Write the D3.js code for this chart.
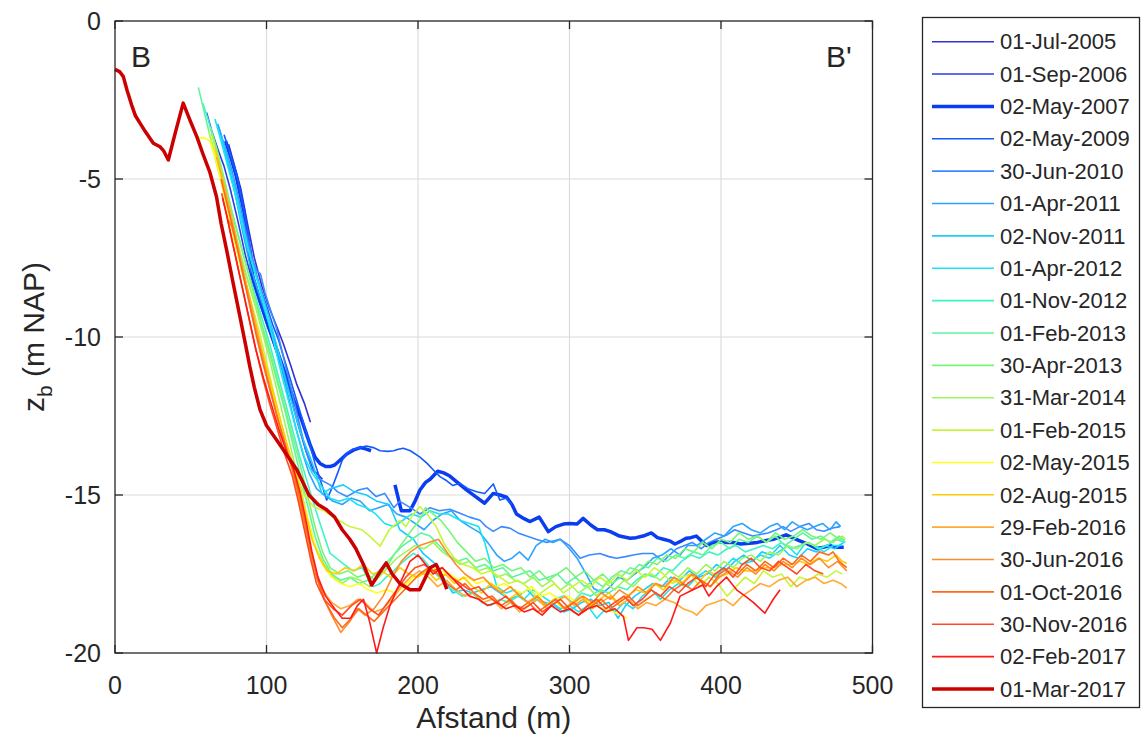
<!DOCTYPE html>
<html>
<head>
<meta charset="utf-8">
<script src="https://cdn.jsdelivr.net/npm/d3@7"></script>
<style>
  body { margin: 0; background: #fff; }
  text { font-family: "Liberation Sans", Arial, sans-serif; fill: #262626; }
</style>
</head>
<body>
<div id="chart"></div>
<script>
// survey dates, in legend order
const dates = ["01-Jul-2005", "01-Sep-2006", "02-May-2007", "02-May-2009", "30-Jun-2010",
  "01-Apr-2011", "02-Nov-2011", "01-Apr-2012", "01-Nov-2012", "01-Feb-2013", "30-Apr-2013",
  "31-Mar-2014", "01-Feb-2015", "02-May-2015", "02-Aug-2015", "29-Feb-2016", "30-Jun-2016",
  "01-Oct-2016", "30-Nov-2016", "02-Feb-2017", "01-Mar-2017"];

const colors = ["#3232d2", "#2a3ce6", "#0a3cf0", "#145aff", "#3a8aff", "#29a4ff", "#1ecbff",
  "#1ae4f2", "#40f2c8", "#5ef5a0", "#78f578", "#9cf55a", "#c8f53a", "#ffff1e", "#ffcc00",
  "#ffaa33", "#ff8c28", "#ff6a1a", "#ff4a22", "#ff1a1a", "#cc0000"];

const thick = ["02-May-2007", "01-Mar-2017"];

const xTicks = [0, 100, 200, 300, 400, 500];
const yTicks = [0, -5, -10, -15, -20];

// profiles: [afstand (m), z_b (m NAP)]
const p20050701 = [[75,-3.9],[79,-4.6],[83,-5.3],[87,-6.3],[92,-7.5],[97,-8.4],[102,-9.1],[107,-9.7],[111,-10.2],[116,-10.9],[120,-11.5],[125,-12.1],[129,-12.7]];

const p20060901 = [[60.5,-2.9],[64,-3.5],[68.2,-4.1],[72,-4.6],[76,-5.3],[81,-6.3],[86,-7.4],[91,-8.3],[96,-9.0],[101,-9.7],[106,-10.4],[111,-11.1],[116,-11.9],[121,-12.8],[126,-13.6],[131,-14.2],[137,-14.5]];

const p20070502 = [[73,-3.8],[77,-4.4],[80,-4.9],[85,-6.0],[91,-8.1],[96,-8.9],[100,-9.5],[104.5,-10.1],[109,-10.7],[113,-11.25],[118,-12.0],[123,-12.6],[128.7,-13.4],[132,-13.8],[135.3,-14.0],[139,-14.1],[142,-14.1],[145,-14.05],[148.5,-13.9],[153,-13.7],[157.3,-13.58],[162,-13.5],[166,-13.55],[169,-13.6],
  [null,null],
  [184.8,-14.68],[189,-15.5],[194.7,-15.5],[198,-15.2],[201.3,-14.84],[205,-14.6],[208,-14.5],[213,-14.25],[217,-14.3],[221,-14.4],[226,-14.6],[232,-14.84],[238,-15.05],[244,-15.26],[249.7,-14.95],[254,-15.0],[258.5,-15.07],[262,-15.3],[265,-15.6],[270,-15.75],[274,-15.84],[280,-15.7],[286,-16.16],[291,-16.0],[296,-15.92],[300,-15.9],[305,-15.92],[309,-15.74],[314,-15.95],[318.5,-16.1],[323,-16.1],[327,-16.16],[333,-16.3],[340,-16.37],[344,-16.35],[348.6,-16.3],[354,-16.2],[358,-16.35],[362,-16.4],[366,-16.45],[369.6,-16.55],[374,-16.45],[377,-16.37],[380,-16.35],[383.7,-16.3],[387,-16.45],[390.4,-16.6],[395,-16.5],[399,-16.48],[404,-16.5],[408,-16.5],[413,-16.55],[419,-16.53],[424,-16.5],[429,-16.45],[434.5,-16.4],[438,-16.35],[443,-16.26],[447,-16.35],[452,-16.45],[457,-16.55],[463,-16.69],[468,-16.65],[472,-16.6],[475,-16.65],[481,-16.65]];

const p20090502 = [[72,-3.6],[76,-4.2],[81,-5.0],[86,-6.2],[91,-7.6],[95,-8.3],[100,-9.0],[104,-9.6],[108,-10.1],[113,-10.9],[118,-11.7],[123,-12.5],[128,-13.3],[132,-14.0],[136,-14.6],[139.7,-15.16],[143,-14.8],[147,-14.3],[150,-13.9],[153,-13.68],[157,-13.55],[161.6,-13.5],[166,-13.45],[170.5,-13.5],[175,-13.6],[180,-13.62],[184,-13.6],[187,-13.55],[190.3,-13.52],[195,-13.6],[201.3,-13.8],[206,-14.0],[210,-14.2],[214.5,-14.42],[219,-14.55],[223,-14.7],[227.7,-14.63],[233,-14.8],[238.7,-14.9],[244,-14.95],[249.7,-14.65],[254,-15.16],[258,-15.1],[262,-15.3]];

const p20100630 = [[68,-3.3],[72,-3.9],[77,-4.7],[82,-5.7],[87,-6.8],[91,-7.6],[93.5,-7.9],[96,-8.0],[99,-8.6],[103,-9.2],[106.5,-9.7],[110,-10.4],[114,-11.2],[118,-12.0],[122,-12.8],[126,-13.6],[130,-14.2],[135,-14.5],[142,-14.68],[147,-14.9],[153,-15.05],[160.7,-14.84],[166.5,-14.78],[172.4,-15.05],[178,-14.95],[184,-15.4],[188,-15.2],[195,-15.4],[201.3,-15.6],[208,-15.4],[214,-15.5],[221,-15.45],[227.7,-15.58],[234,-15.7],[240.9,-15.8],[245,-16.0],[249.7,-16.15],[255,-16.0],[260.7,-16.05],[266,-16.2],[271.7,-16.3],[278,-16.4],[284.9,-16.5],[290,-16.45],[293.7,-16.4],[300,-16.6],[307,-17.0],[313,-16.9],[320,-16.85],[326,-16.95],[331,-17.0],[337,-16.95],[342,-16.9],[348,-16.85],[355,-16.85],[362,-17.1],[366,-16.9],[370.6,-16.7],[376,-16.6],[381,-16.5],[387,-16.7],[392,-16.5],[397,-16.4],[403.7,-16.27],[409,-16.1],[415,-16.2],[421,-16.3],[426,-16.25],[431,-16.2],[436.7,-16.1],[441,-16.0],[446,-16.15],[452,-16.0],[458,-15.9],[463,-16.1],[468,-16.15],[473,-16.05],[478.5,-16.0]];

const p20110401 = [[67.8,-3.25],[70,-3.6],[74,-4.4],[79,-5.4],[84,-6.6],[89,-7.7],[94,-8.5],[99,-9.2],[104,-9.9],[109,-10.8],[114,-11.8],[119,-12.8],[124,-13.7],[128,-14.3],[133,-14.8],[138,-15.0],[144,-15.2],[150,-15.3],[156,-15.1],[162,-15.2],[168,-15.5],[174,-15.4],[180,-15.3],[186,-15.6],[192,-15.7],[198,-15.9],[204,-16.1],[210,-15.8],[216,-15.6],[222,-15.5],[227.7,-15.8],[234,-16.0],[241,-16.2],[246,-16.5],[252,-16.9],[257,-17.1],[262,-17.0],[267,-16.8],[272.7,-17.06],[278,-16.6],[284,-16.4],[289,-16.5],[294,-16.4],[300,-16.7],[305,-17.0],[311,-17.5],[316,-17.96],[322,-18.1],[327,-17.9],[332,-17.6],[338,-17.7],[343,-17.5],[349,-17.3],[355,-17.0],[361,-16.9],[367,-16.7],[373,-16.9],[378,-16.6],[384,-16.6],[390,-16.4],[396,-16.2],[402,-16.3],[408,-16.0],[414,-15.9],[420,-16.1],[426,-16.2],[432,-16.0],[437,-15.9],[442,-16.1],[447,-15.85],[452,-16.0],[457,-16.1],[462,-16.0],[467,-15.9],[472,-16.1],[476,-15.85],[479,-16.0]];

const p20111102 = [[70,-3.6],[74,-4.3],[78,-5.0],[83,-6.1],[88,-7.2],[93,-8.0],[98,-8.8],[103,-9.6],[108,-10.5],[113,-11.4],[118,-12.3],[123,-13.1],[128,-13.7],[131,-14.1],[136.6,-14.97],[142,-14.8],[150.7,-14.68],[158,-14.9],[166,-15.0],[173,-15.2],[181,-15.3],[188,-16.1],[197,-16.4],[203.3,-16.85],[212,-17.2],[219,-17.8],[223,-18.1],[230,-18.0],[236,-18.1],[242,-18.0],[248,-17.9],[254,-18.1],[260,-18.3],[266,-18.2],[272,-18.0],[278,-18.3],[284,-18.4],[290,-18.5],[296,-18.7],[302,-18.6],[308,-18.4],[314,-18.3],[320,-18.5],[326,-18.4],[332,-18.9],[337,-18.5],[343,-18.2],[349,-18.0],[355,-17.8],[361,-17.9],[367,-17.6],[373,-17.7],[379,-17.4],[385,-17.6],[391,-17.5],[397,-17.2],[403,-17.4],[409,-17.1],[415,-16.9],[421,-17.1],[427,-16.8],[433,-16.9],[439,-16.6],[445,-16.9],[451,-17.0],[457,-16.7],[463,-16.8],[469,-16.6],[475,-16.7],[481,-16.5]];

const p20120401 = [[66,-3.1],[70,-3.8],[75,-4.7],[80,-5.6],[85,-6.7],[90,-7.6],[95,-8.4],[100,-9.3],[105,-10.2],[110,-11.2],[115,-12.1],[120,-13.0],[125,-13.8],[130,-14.3],[136,-14.7],[142,-15.1],[148,-15.2],[154,-15.1],[160,-15.3],[166,-15.4],[172,-15.6],[178,-15.9],[184,-16.0],[190,-15.8],[196,-15.6],[202,-15.7],[208,-15.5],[214,-15.6],[220,-15.6],[227.7,-15.8],[234,-15.9],[240,-16.0],[244,-16.5],[248,-17.2],[252,-17.9],[258,-18.1],[264,-18.0],[270,-18.3],[276,-18.0],[282,-18.2],[288,-18.4],[294,-18.6],[300,-18.5],[306,-18.7],[312,-18.5],[318,-18.9],[324,-18.6],[330,-18.7],[336,-18.4],[342,-18.6],[348,-18.2],[354,-18.0],[360,-18.3],[366,-18.0],[372,-17.8],[378,-17.9],[384,-17.6],[390,-17.4],[396,-17.6],[402,-17.3],[408,-17.0],[414,-17.2],[420,-17.1],[426,-16.9],[432,-17.0],[438,-16.8],[444,-16.6],[450,-16.9],[456,-16.5],[462,-16.6],[468,-16.8],[474,-16.6],[480,-16.6]];

const p20121101 = [[58,-2.6],[62,-3.2],[67,-4.1],[72,-5.0],[77,-6.0],[82,-6.9],[87,-7.8],[92,-8.6],[97,-9.4],[102,-10.2],[107,-11.1],[112,-12.0],[117,-12.9],[122,-13.8],[127,-14.6],[132,-15.4],[136,-16.0],[142,-16.85],[146,-17.0],[151.4,-17.2],[157,-17.4],[163,-17.3],[170.5,-17.9],[175,-17.8],[179,-17.6],[184,-17.4],[188,-17.2],[193,-17.0],[197,-16.85],[203,-17.0],[208,-17.3],[214,-17.6],[219,-17.9],[223,-18.0],[229,-18.2],[236,-18.1],[242,-18.4],[248,-18.5],[254,-18.3],[260,-18.4],[266,-18.2],[272,-18.4],[278,-18.3],[284,-18.5],[290,-18.3],[296,-18.2],[302,-18.4],[308,-18.1],[314,-18.2],[320,-18.0],[326,-18.1],[332,-17.9],[338,-18.0],[344,-17.7],[350,-17.5],[356,-17.6],[362,-17.3],[368,-17.4],[374,-17.1],[380,-16.9],[386,-17.0],[392,-16.8],[398,-16.9],[404,-16.7],[410,-16.6],[416,-16.8],[422,-16.7],[428,-16.6],[434,-16.7],[440,-16.5],[446,-16.7],[452,-16.6],[458,-16.5],[464,-16.7],[470,-16.6],[476,-16.4],[482,-16.5]];

const p20130201 = [[55,-2.1],[59,-2.9],[63,-3.7],[67,-4.5],[72,-5.4],[77,-6.4],[82,-7.3],[87,-8.1],[92,-8.9],[97,-9.7],[102,-10.5],[107,-11.4],[112,-12.3],[117,-13.3],[122,-14.3],[127,-15.3],[132,-16.3],[137,-17.0],[143,-17.5],[149,-17.7],[155,-17.6],[161,-17.8],[167,-17.7],[172,-17.5],[178,-17.2],[184,-16.9],[190,-16.6],[196,-16.4],[202,-16.2],[208,-16.3],[214,-16.6],[220,-16.9],[226,-17.1],[232,-17.0],[238,-17.3],[244,-17.2],[250,-17.4],[256,-17.3],[262,-17.6],[268,-17.5],[274,-17.4],[280,-17.7],[286,-17.6],[292,-17.5],[298,-17.8],[304,-17.6],[310,-17.9],[316,-17.7],[322,-17.9],[328,-17.6],[334,-17.4],[340,-17.5],[346,-17.2],[352,-17.3],[358,-17.0],[364,-17.1],[370,-16.9],[376,-17.0],[382,-16.8],[388,-16.9],[394,-16.6],[400,-16.5],[406,-16.7],[412,-16.4],[418,-16.5],[424,-16.3],[430,-16.5],[436,-16.3],[442,-16.6],[448,-16.4],[454,-16.2],[460,-16.4],[466,-16.3],[472,-16.5],[478,-16.3],[482,-16.5]];

const p20130430 = [[63,-3.35],[67,-4.0],[72,-5.0],[77,-6.0],[82,-6.9],[87,-7.8],[92,-8.7],[97,-9.6],[102,-10.4],[107,-11.3],[112,-12.2],[117,-13.1],[122,-14.0],[127,-15.0],[132,-16.0],[137,-16.8],[142,-17.3],[148,-17.5],[154,-17.4],[160,-17.6],[166,-17.5],[172,-17.7],[178,-17.4],[184,-16.9],[190,-16.5],[196,-16.1],[201,-15.8],[205,-15.4],[210,-15.6],[215,-15.8],[220,-16.1],[226,-16.5],[232,-16.8],[238,-17.1],[244,-17.0],[250,-17.3],[256,-17.2],[262,-17.4],[268,-17.3],[274,-17.6],[280,-17.4],[286,-17.7],[292,-17.5],[298,-17.3],[304,-17.6],[310,-17.4],[316,-17.7],[322,-17.5],[328,-17.8],[334,-17.6],[340,-17.3],[346,-17.4],[352,-17.1],[358,-17.2],[364,-16.9],[370,-17.0],[376,-16.7],[382,-16.8],[388,-16.5],[394,-16.7],[400,-16.4],[406,-16.5],[412,-16.2],[418,-16.4],[424,-16.3],[430,-16.5],[436,-16.2],[442,-16.4],[448,-16.3],[454,-16.1],[460,-16.3],[466,-16.4],[472,-16.2],[478,-16.4],[482,-16.4]];

const p20140331 = [[64,-3.6],[68,-4.3],[72,-5.1],[77,-6.2],[82,-7.2],[87,-8.1],[92,-8.9],[97,-9.8],[102,-10.7],[107,-11.7],[112,-12.7],[117,-13.7],[122,-14.7],[127,-15.7],[132,-16.6],[138,-17.2],[144,-17.6],[150,-17.8],[156,-17.6],[162,-17.7],[168,-17.9],[174,-17.6],[180,-17.3],[186,-17.0],[192,-16.8],[198,-16.6],[204,-16.7],[210,-16.5],[216,-16.8],[222,-17.0],[228,-17.2],[234,-17.1],[240,-17.4],[246,-17.3],[252,-17.6],[258,-17.5],[264,-17.7],[270,-17.8],[276,-17.6],[282,-17.9],[288,-17.7],[294,-18.0],[300,-17.8],[306,-18.1],[312,-17.9],[318,-18.2],[324,-17.8],[330,-18.0],[336,-17.7],[342,-17.9],[348,-17.6],[354,-17.5],[360,-17.7],[366,-17.4],[372,-17.6],[378,-17.3],[384,-17.5],[390,-17.2],[396,-17.4],[402,-17.1],[408,-17.3],[414,-17.0],[420,-16.9],[426,-17.1],[432,-16.8],[438,-16.9],[444,-16.6],[450,-16.7],[456,-16.5],[462,-16.6],[468,-16.4],[474,-16.5],[480,-16.3],[482,-16.4]];

const p20150201 = [[62,-3.5],[66,-4.2],[70,-5.0],[75,-6.1],[80,-7.1],[85,-8.0],[90,-8.9],[95,-9.8],[100,-10.8],[105,-11.8],[110,-12.8],[115,-13.7],[120,-14.4],[125,-15.0],[131,-15.37],[138,-15.5],[147.6,-15.8],[155,-16.0],[163,-16.1],[168,-16.3],[175,-16.62],[181,-16.1],[188,-15.8],[192,-16.0],[197,-15.6],[201.3,-15.37],[206,-15.6],[212,-16.0],[218,-16.6],[224,-17.0],[230,-17.2],[236,-17.3],[242,-17.5],[248,-17.4],[254,-17.6],[260,-17.8],[266,-17.7],[272,-17.9],[278,-18.2],[284,-18.0],[290,-17.8],[296,-18.1],[302,-17.9],[308,-17.7],[314,-17.9],[320,-17.6],[326,-17.8],[332,-17.5],[338,-17.7],[344,-17.4],[350,-17.6],[356,-17.3],[362,-17.5],[368,-17.8],[374,-17.6],[380,-17.5],[386,-17.9],[392,-17.6],[398,-17.8],[404,-18.2],[410,-17.9],[416,-17.6],[422,-17.8],[428,-17.4],[434,-17.6],[440,-17.5],[446,-17.9],[452,-17.6],[458,-17.7],[464,-17.5],[470,-17.6],[476,-17.4],[480,-17.5]];

const p20150502 = [[55,-3.7],[59,-3.7],[62.7,-3.8],[66,-4.3],[70,-5.1],[74,-5.9],[79,-7.0],[84,-8.0],[89,-8.9],[94,-9.8],[99,-10.8],[104,-11.8],[109,-12.8],[114,-13.7],[118,-14.3],[122,-14.9],[127,-15.7],[132,-16.6],[137,-17.2],[143,-17.6],[149,-17.8],[155,-17.9],[161,-17.8],[167,-18.0],[173,-18.1],[179,-18.0],[185,-18.1],[191,-17.9],[197,-17.6],[203,-17.5],[209,-17.3],[215,-17.4],[221,-17.5],[227,-17.7],[233,-17.6],[239,-17.8],[245,-17.7],[251,-17.9],[257,-17.8],[263,-18.0],[269,-18.1],[275,-17.9],[281,-18.2],[287,-18.1],[293,-18.3],[299,-18.2],[305,-18.4],[311,-18.3],[317,-18.5],[323,-18.6],[329,-18.7],[334,-18.8],[338,-18.9]];

const p20150802 = [[66,-4.0],[70,-4.8],[74,-5.6],[78,-6.5],[83,-7.6],[88,-8.6],[93,-9.6],[98,-10.6],[103,-11.5],[108,-12.4],[113,-13.3],[118,-14.1],[122,-14.8],[126,-15.6],[130,-16.4],[135,-17.0],[140,-17.4],[146,-17.5],[152,-17.3],[158,-17.4],[164,-17.2],[170,-17.5],[176,-17.4],[182,-17.6],[188,-17.3],[194,-17.5],[200,-17.6],[206,-17.4],[212,-17.7],[218,-17.5],[224,-17.8],[230,-17.6],[236,-17.9],[242,-18.1],[248,-17.8],[254,-18.0],[260,-18.3],[266,-18.1],[272,-18.4],[278,-18.2],[284,-18.5],[290,-18.3],[296,-18.6],[302,-18.4],[308,-18.2],[314,-18.5],[320,-18.3],[326,-18.1],[332,-18.4],[338,-18.2],[344,-18.0],[350,-18.1],[356,-17.8],[362,-18.0],[368,-17.7],[374,-17.8],[380,-17.5],[386,-17.7],[392,-17.4],[398,-17.6],[404,-17.5],[410,-17.3],[416,-17.4],[422,-17.4],[428,-17.3],[434,-17.3],[440,-17.2],[446,-17.2],[452,-17.1],[458,-17.2],[464,-17.0],[470,-17.1],[476,-16.9],[480,-17.1],[483,-17.16]];

const p20160229 = [[67,-4.3],[72,-5.2],[76,-6.0],[81,-7.1],[86,-8.2],[91,-9.2],[96,-10.3],[101,-11.3],[106,-12.3],[111,-13.2],[116,-14.0],[120,-14.8],[124,-15.7],[128,-16.6],[132,-17.4],[137,-18.0],[143,-18.4],[149,-18.6],[155,-18.5],[160,-18.3],[165,-18.4],[171,-18.7],[177,-18.6],[183,-18.3],[189,-17.9],[195,-17.6],[201,-17.4],[207,-17.6],[213,-17.9],[219,-17.7],[225,-18.0],[231,-18.2],[237,-18.1],[243,-18.4],[249,-18.3],[255,-18.6],[261,-18.4],[267,-18.7],[273,-18.5],[279,-18.3],[285,-18.6],[291,-18.4],[297,-18.2],[303,-18.5],[309,-18.3],[315,-18.6],[321,-18.4],[327,-18.2],[333,-18.5],[339,-18.3],[345,-18.6],[351,-18.4],[357,-18.5],[363,-18.3],[369,-18.4],[375,-18.6],[381,-18.7],[384,-18.8],[390,-18.5],[396,-18.4],[402,-18.3],[408,-18.5],[414,-18.2],[420,-18.0],[426,-17.8],[432,-17.9],[438,-17.7],[444,-17.6],[450,-17.9],[456,-17.7],[462,-17.6],[468,-17.8],[474,-17.7],[479,-17.8],[483,-17.95]];

const p20160630 = [[74.8,-6.3],[77,-6.5],[82,-7.4],[87,-8.5],[92,-9.6],[97,-10.6],[102,-11.6],[107,-12.5],[112,-13.4],[117,-14.2],[121,-15.0],[125,-15.9],[129,-16.8],[133,-17.6],[138,-18.3],[143,-18.8],[149,-19.35],[155,-19.0],[160,-18.6],[165,-18.8],[171,-18.6],[177,-18.2],[183,-17.6],[189,-17.1],[195,-16.8],[201,-16.6],[207,-16.5],[213.5,-16.4],[219,-16.8],[225,-17.2],[231,-17.5],[237,-17.7],[243,-17.6],[249,-17.9],[255,-18.1],[261,-17.9],[267,-18.2],[273,-18.4],[279,-18.2],[285,-18.5],[291,-18.3],[297,-18.6],[303,-18.4],[309,-18.2],[315,-18.4],[321,-18.1],[327,-18.3],[333,-18.0],[339,-18.2],[345,-17.9],[351,-18.1],[357,-17.8],[363,-17.9],[369,-17.6],[375,-17.8],[381,-17.5],[387,-17.7],[393,-17.9],[399,-17.6],[405,-17.4],[411,-17.6],[417,-17.3],[423,-17.5],[429,-17.2],[435,-17.4],[441,-17.1],[447,-17.3],[453,-17.0],[459,-17.2],[465,-17.0],[471,-17.3],[477,-17.1],[483,-17.4]];

const p20161001 = [[70,-5.0],[74,-5.8],[78,-6.6],[83,-7.7],[88,-8.8],[93,-9.9],[98,-10.9],[103,-11.8],[108,-12.7],[113,-13.5],[118,-14.3],[122,-15.1],[126,-16.0],[130,-16.9],[134,-17.7],[139,-18.4],[145,-18.9],[150,-19.2],[156,-18.9],[161,-18.6],[166,-18.8],[171,-19.0],[177,-18.7],[183,-18.4],[189,-18.1],[195,-17.8],[201,-17.5],[207,-17.3],[213,-17.5],[219,-17.8],[225,-18.0],[231,-17.8],[237,-18.1],[243,-18.3],[249,-18.2],[255,-18.5],[261,-18.3],[267,-18.6],[273,-18.4],[279,-18.7],[285,-18.5],[291,-18.3],[297,-18.6],[303,-18.4],[309,-18.7],[315,-18.5],[321,-18.3],[327,-18.6],[333,-18.4],[339,-18.2],[345,-18.5],[351,-18.3],[357,-18.1],[363,-18.3],[369,-18.0],[375,-17.8],[381,-18.0],[387,-17.7],[393,-17.9],[399,-17.5],[405,-17.3],[411,-17.5],[417,-17.2],[423,-17.4],[429,-17.1],[435,-17.3],[441,-17.0],[447,-17.2],[453,-16.9],[459,-17.1],[465,-16.8],[471,-16.9],[474,-16.8],[478,-17.1],[483,-17.3]];

const p20161130 = [[70.4,-5.45],[73,-6.0],[77,-6.9],[82,-8.0],[87,-9.1],[92,-10.2],[97,-11.2],[102,-12.1],[107,-12.9],[112,-13.7],[117,-14.4],[121,-15.2],[125,-16.1],[129,-17.0],[133,-17.8],[138,-18.3],[144,-18.6],[150,-18.8],[156,-18.5],[162,-18.3],[168,-18.6],[174,-18.8],[180,-18.4],[186,-18.0],[192,-17.6],[198,-17.3],[204,-17.2],[210,-17.4],[216,-17.3],[222,-17.6],[228,-17.8],[234,-18.0],[240,-17.9],[246,-18.2],[252,-18.4],[258,-18.2],[264,-18.5],[270,-18.6],[276,-18.4],[282,-18.7],[288,-18.5],[294,-18.3],[300,-18.6],[306,-18.8],[312,-18.5],[318,-18.3],[324,-18.6],[330,-18.4],[336,-18.2],[342,-18.5],[348,-18.3],[354,-18.0],[360,-18.2],[366,-17.9],[372,-18.1],[378,-17.8],[384,-17.6],[390,-17.9],[396,-17.5],[402,-17.3],[408,-17.6],[414,-17.2],[420,-17.0],[426,-17.3],[432,-17.4],[438,-17.1],[444,-17.3],[450,-17.5],[456,-17.2],[462,-17.4],[467.5,-17.5]];

const p20170202 = [[71,-5.6],[74,-6.2],[78,-7.1],[83,-8.2],[88,-9.3],[93,-10.4],[98,-11.3],[103,-12.1],[108,-12.9],[113,-13.6],[118,-14.2],[122,-14.9],[126,-15.8],[130,-16.8],[134,-17.6],[139,-18.2],[145,-18.6],[150,-18.9],[155.5,-18.9],[160,-18.5],[164,-18.3],[168,-19.0],[172.7,-20.0],[177,-19.2],[181.5,-18.5],[186,-18.0],[190,-17.6],[194.7,-17.1],[200,-16.9],[205,-17.2],[210,-17.5],[216,-17.3],[222,-17.6],[228,-17.9],[234,-18.2],[240,-18.3],[246,-18.5],[252,-18.4],[258,-18.6],[264,-18.5],[270,-18.7],[276,-18.6],[282,-18.8],[288,-18.5],[294,-18.7],[300,-18.6],[306,-18.8],[312,-18.6],[318,-18.5],[324,-18.7],[330,-18.6],[335.6,-18.85],[338.9,-19.6],[344.5,-19.2],[349,-19.2],[354.5,-19.25],[360,-19.6],[366.6,-19.05],[373,-18.2],[381.5,-18.0],[388,-17.85],[392,-18.2],[397,-17.9],[403.7,-17.6],[410.3,-18.0],[416,-18.2],[421.3,-18.4],[429,-18.74],[434.5,-18.3],[439,-18.0]];

const p20170301 = [[0,-1.53],[3,-1.6],[5.5,-1.76],[8,-2.2],[11,-2.66],[13.5,-3.0],[16.5,-3.23],[20,-3.5],[25.3,-3.87],[29.7,-3.98],[32,-4.1],[35.2,-4.4],[40,-3.5],[45,-2.6],[50,-3.2],[54,-3.66],[58,-4.2],[62.7,-4.8],[67,-5.56],[70,-6.4],[73.7,-7.25],[78,-8.3],[82.5,-9.36],[86,-10.2],[89,-10.94],[92,-11.6],[95.7,-12.3],[100,-12.8],[106.7,-13.26],[113,-13.7],[120,-14.2],[124,-14.6],[128,-15.0],[134,-15.3],[139.7,-15.47],[145,-15.7],[150,-16.1],[155,-16.4],[159,-16.7],[164,-17.2],[169.4,-17.85],[174,-17.5],[179,-17.15],[183,-17.5],[188,-17.8],[194.7,-18.0],[201,-18.0],[205,-17.6],[208,-17.3],[212,-17.2],[216,-17.6],[219,-17.98]];

const profiles = [p20050701, p20060901, p20070502, p20090502, p20100630, p20110401, p20111102,
  p20120401, p20121101, p20130201, p20130430, p20140331, p20150201, p20150502, p20150802,
  p20160229, p20160630, p20161001, p20161130, p20170202, p20170301];

const W = 1142, H = 740;
const m = { left: 115, top: 21, right: 872.5, bottom: 653 };

const x = d3.scaleLinear().domain([0, 500]).range([m.left, m.right]);
const y = d3.scaleLinear().domain([-20, 0]).range([m.bottom, m.top]);

const svg = d3.select("#chart").append("svg")
    .attr("width", W)
    .attr("height", H);

// grid
svg.append("g").selectAll("line")
  .data(xTicks.slice(1, -1))
  .join("line")
    .attr("x1", d => x(d)).attr("x2", d => x(d))
    .attr("y1", m.top).attr("y2", m.bottom)
    .attr("stroke", "#dcdcdc").attr("stroke-width", 1.2);

svg.append("g").selectAll("line")
  .data(yTicks.slice(1, -1))
  .join("line")
    .attr("y1", d => y(d)).attr("y2", d => y(d))
    .attr("x1", m.left).attr("x2", m.right)
    .attr("stroke", "#dcdcdc").attr("stroke-width", 1.2);

// profiles
const line = d3.line()
    .defined(d => d[0] != null)
    .x(d => x(d[0]))
    .y(d => y(d[1]));

svg.append("g")
  .selectAll("path")
  .data(profiles)
  .join("path")
    .attr("d", line)
    .attr("fill", "none")
    .attr("stroke", (d, i) => colors[i])
    .attr("stroke-width", (d, i) => thick.includes(dates[i]) ? 3.5 : 1.6)
    .attr("stroke-linejoin", "round");

// axes (box with inward ticks on all sides)
const axisColor = "#262626";
svg.append("rect")
    .attr("x", m.left).attr("y", m.top)
    .attr("width", m.right - m.left).attr("height", m.bottom - m.top)
    .attr("fill", "none").attr("stroke", axisColor).attr("stroke-width", 1.3);

const tickLen = 8;
const ticks = svg.append("g").attr("stroke", axisColor).attr("stroke-width", 1.3);
xTicks.forEach(t => {
  ticks.append("line").attr("x1", x(t)).attr("x2", x(t)).attr("y1", m.bottom).attr("y2", m.bottom - tickLen);
  ticks.append("line").attr("x1", x(t)).attr("x2", x(t)).attr("y1", m.top).attr("y2", m.top + tickLen);
});
yTicks.forEach(t => {
  ticks.append("line").attr("y1", y(t)).attr("y2", y(t)).attr("x1", m.left).attr("x2", m.left + tickLen);
  ticks.append("line").attr("y1", y(t)).attr("y2", y(t)).attr("x1", m.right).attr("x2", m.right - tickLen);
});

svg.append("g").selectAll("text")
  .data(xTicks)
  .join("text")
    .attr("x", d => x(d))
    .attr("y", m.bottom + 41)
    .attr("text-anchor", "middle")
    .attr("font-size", 25)
    .text(d => d);

svg.append("g").selectAll("text")
  .data(yTicks)
  .join("text")
    .attr("x", m.left - 14)
    .attr("y", d => y(d))
    .attr("dy", "0.35em")
    .attr("text-anchor", "end")
    .attr("font-size", 25)
    .text(d => d);

svg.append("text")
    .attr("x", (m.left + m.right) / 2)
    .attr("y", 728)
    .attr("text-anchor", "middle")
    .attr("font-size", 30)
    .text("Afstand (m)");

const yl = svg.append("text")
    .attr("transform", `translate(44,${(m.top + m.bottom) / 2}) rotate(-90)`)
    .attr("text-anchor", "middle")
    .attr("font-size", 30);
yl.append("tspan").text("z");
yl.append("tspan").attr("font-size", 21).attr("dy", 8).text("b");
yl.append("tspan").attr("dy", -8).text(" (m NAP)");

// section labels
svg.append("text").attr("x", 131).attr("y", 67).attr("font-size", 30).text("B");
svg.append("text").attr("x", 826).attr("y", 67).attr("font-size", 30).text("B'");

// legend
const lg = svg.append("g");
lg.append("rect")
    .attr("x", 922.5).attr("y", 17.5)
    .attr("width", 217).attr("height", 690)
    .attr("fill", "#fff").attr("stroke", axisColor).attr("stroke-width", 1.3);

const ly = d3.scalePoint().domain(dates).range([41.7, 689]);

const item = lg.selectAll("g.item")
  .data(dates)
  .join("g")
    .attr("class", "item")
    .attr("transform", d => `translate(0,${ly(d)})`);

item.append("line")
    .attr("x1", 932).attr("x2", 994)
    .attr("stroke", (d, i) => colors[i])
    .attr("stroke-width", d => thick.includes(d) ? 3.5 : 1.6);

item.append("text")
    .attr("x", 1000)
    .attr("dy", "0.35em")
    .attr("font-size", 22)
    .text(d => d);
</script>
</body>
</html>
